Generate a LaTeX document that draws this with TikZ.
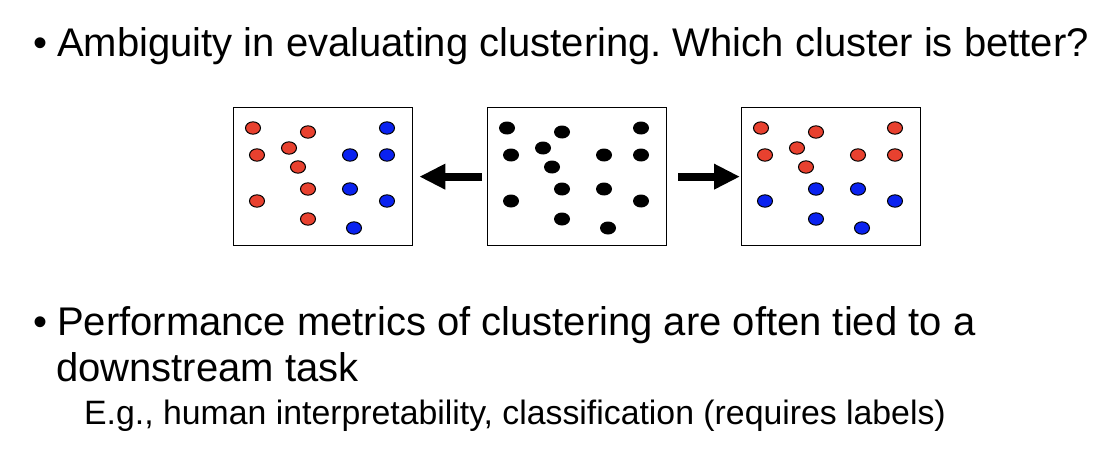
\documentclass[tikz,border=0pt]{standalone}
\usepackage{fontspec}
\setmainfont{Liberation Sans}
\usetikzlibrary{arrows.meta,positioning}
\definecolor{dotRed}{HTML}{E8412F}
\definecolor{dotBlue}{HTML}{0A22F0}
\frenchspacing

\begin{document}
\begin{tikzpicture}[x=1pt,y=-1pt,
    panel/.style={draw=black, line width=1.3pt, minimum width=179pt, minimum height=138pt, inner sep=0pt, anchor=north west},
    bigarrow/.style={line width=8pt, -{Triangle[length=26pt,width=24pt]}},
    bullet/.style={anchor=base west, inner sep=0pt, font=\fontsize{40}{48}\selectfont},
    subline/.style={anchor=base west, inner sep=0pt, font=\fontsize{33.8}{40}\selectfont}]
    \useasboundingbox (0,0) rectangle (1112,460);

    \node[bullet] (amb) at (33,57) {•\hspace{0.25em}Ambiguity in evaluating clustering. Which cluster is better?};

    % three panels: clustering A, raw data, clustering B
    \node[panel] (lft) at (233,107) {};
    \node[panel] (mid) at (487,107) {};
    \node[panel] (rgt) at (741,107) {};

    \foreach \px/\py/\cl/\cr in {20/21/dotRed/dotRed, 75/25/dotRed/dotRed, 154/21/dotBlue/dotRed,
            56/41/dotRed/dotRed, 24/48/dotRed/dotRed, 117/48/dotBlue/dotRed, 154/48/dotBlue/dotRed,
            65/60/dotRed/dotRed, 75/82/dotRed/dotBlue, 117/82/dotBlue/dotBlue, 24/94/dotRed/dotBlue,
            154/94/dotBlue/dotBlue, 75/112/dotRed/dotBlue, 121/121/dotBlue/dotBlue} {
        \filldraw[fill=\cl, draw=black, line width=1pt] ([shift={(\px,\py)}]lft.north west) ellipse [x radius=7.5, y radius=6.2];
        \fill[black] ([shift={(\px,\py)}]mid.north west) ellipse [x radius=8, y radius=6.5];
        \filldraw[fill=\cr, draw=black, line width=1pt] ([shift={(\px,\py)}]rgt.north west) ellipse [x radius=7.5, y radius=6.2];
    }

    \draw[bigarrow, shorten <=5pt, shorten >=6pt] (mid.west) -- (lft.east);
    \draw[bigarrow, shorten <=11pt, shorten >=1pt] (mid.east) -- (rgt.west);

    \node[bullet] (perf) at (33,335) {•\hspace{0.25em}Performance metrics of clustering are often tied to a};
    \node[bullet] (down) at (56,381) {downstream task};
    \node[subline] (eg) at (84,424) {E.g., human interpretability, classification (requires labels)};
\end{tikzpicture}
\end{document}
